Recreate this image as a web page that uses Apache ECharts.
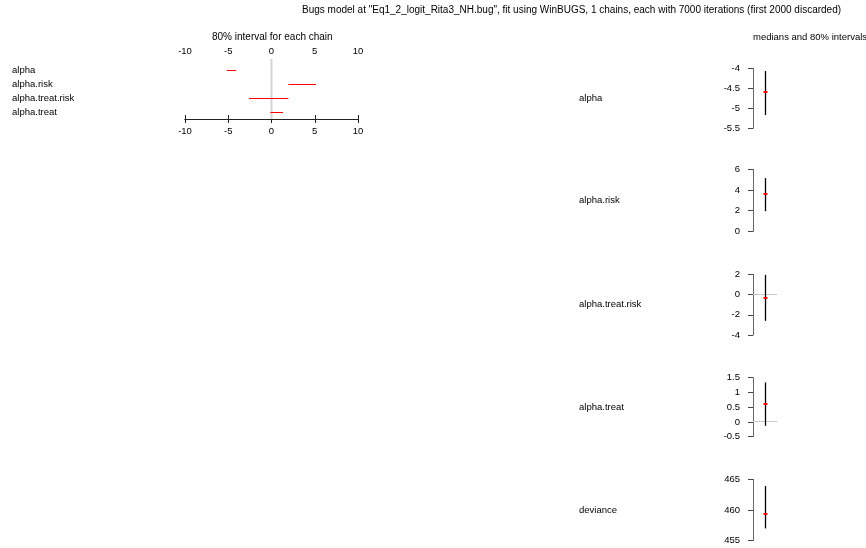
<!DOCTYPE html>
<html>
<head>
<meta charset="utf-8">
<script src="https://cdn.jsdelivr.net/npm/echarts@6/dist/echarts.min.js"></script>
<style>
html, body { margin: 0; background: #fff; }
#main { width: 866px; height: 548px; }
</style>
</head>
<body>
<div id="main"></div>
<script>
// left panel: 80% interval for each chain
var params = ['alpha', 'alpha.risk', 'alpha.treat.risk', 'alpha.treat'];
var chainLow = [-5.17, 1.95, -2.6, -0.13];
var chainHigh = [-4.07, 5.15, 1.95, 1.34];

// right panels: medians and 80% intervals
var panelNames = ['alpha', 'alpha.risk', 'alpha.treat.risk', 'alpha.treat', 'deviance'];
var medians = [-4.58, 3.6, -0.35, 0.6, 459.4];
var lows = [-5.17, 1.95, -2.6, -0.13, 457.0];
var highs = [-4.07, 5.15, 1.95, 1.34, 463.9];
var axisMin = [-5.5, 0, -4, -0.5, 455];
var axisMax = [-4, 6, 2, 1.5, 465];
var axisStep = [0.5, 2, 2, 0.5, 5];

var FONT = 'Liberation Sans';
var txt = { color: '#000', fontSize: 9.5, fontFamily: FONT };

var chart = echarts.init(document.getElementById('main'));

// snap a coordinate to the pixel centre so 1px lines stay crisp
function px(v) { return Math.round(v - 0.5) + 0.5; }

var grids = [
  { left: 185, width: 173, top: 59, height: 60 },   // axes of the left panel
  { left: 185, width: 173, top: 63, height: 56 }    // rows of the left panel
];
var xAxes = [
  {
    gridIndex: 0, type: 'value', position: 'top', min: -10, max: 10, interval: 5,
    axisLine: { lineStyle: { color: '#222' } },
    axisTick: { length: 4, lineStyle: { color: '#222' } },
    axisLabel: Object.assign({ margin: 3 }, txt),
    splitLine: { show: false }
  },
  {
    gridIndex: 0, type: 'value', position: 'bottom', min: -10, max: 10, interval: 5,
    axisLine: { lineStyle: { color: '#222' } },
    axisTick: { length: 4, lineStyle: { color: '#222' } },
    axisLabel: Object.assign({ margin: 7 }, txt),
    splitLine: { show: false }
  },
  { gridIndex: 1, type: 'value', min: -10, max: 10, show: false }
];
var yAxes = [
  { gridIndex: 0, type: 'value', min: 0, max: 1, show: false },
  {
    gridIndex: 1, type: 'category', data: params, inverse: true,
    axisLine: { show: false }, axisTick: { show: false }, splitLine: { show: false },
    axisLabel: Object.assign({ margin: 173, align: 'left' }, txt)
  }
];

var series = [
  {
    // zero reference line across the left panel
    type: 'custom', coordinateSystem: 'cartesian2d', xAxisIndex: 0, yAxisIndex: 0,
    data: [[0, 0, 1]],
    encode: { x: 0, y: [1, 2] },
    renderItem: function (ctx, api) {
      var a = api.coord([api.value(0), api.value(1)]);
      var b = api.coord([api.value(0), api.value(2)]);
      return {
        type: 'line',
        shape: { x1: a[0], y1: a[1], x2: b[0], y2: b[1] },
        style: { stroke: '#d4d4d4', lineWidth: 2 }
      };
    }
  },
  {
    type: 'custom', coordinateSystem: 'cartesian2d', xAxisIndex: 2, yAxisIndex: 1,
    data: params.map(function (p, i) { return [chainLow[i], chainHigh[i], i]; }),
    encode: { x: [0, 1], y: 2 },
    renderItem: function (ctx, api) {
      var a = api.coord([api.value(0), api.value(2)]);
      var b = api.coord([api.value(1), api.value(2)]);
      return {
        type: 'line',
        shape: { x1: a[0], y1: px(a[1]), x2: b[0], y2: px(b[1]) },
        style: { stroke: '#ff0000', lineWidth: 1 }
      };
    },
    z: 3
  }
];

var tops = [68.3, 169.3, 274.3, 377.7, 479.3];
var heights = [60, 62, 60.7, 59, 61.4];

panelNames.forEach(function (name, i) {
  var g = grids.length;
  var xi = xAxes.length;
  var yi = yAxes.length;
  grids.push({ left: 753, width: 24, top: tops[i], height: heights[i] });
  xAxes.push({ gridIndex: g, type: 'value', min: 0, max: 1, show: false });
  yAxes.push({
    gridIndex: g, type: 'value', min: axisMin[i], max: axisMax[i], interval: axisStep[i],
    name: name, nameLocation: 'middle', nameRotate: 0, nameGap: 174,
    nameTextStyle: Object.assign({ align: 'left' }, txt),
    axisLine: { show: true, lineStyle: { color: '#666' } },
    axisTick: { show: true, length: 5, lineStyle: { color: '#444' } },
    axisLabel: Object.assign({ margin: 13 }, txt),
    splitLine: { show: false }
  });
  if (axisMin[i] < 0 && axisMax[i] > 0) {
    // zero reference line
    series.push({
      type: 'custom', coordinateSystem: 'cartesian2d', xAxisIndex: xi, yAxisIndex: yi,
      data: [[0, 1, 0]],
      encode: { x: [0, 1], y: 2 },
      renderItem: function (ctx, api) {
        var a = api.coord([api.value(0), api.value(2)]);
        var b = api.coord([api.value(1), api.value(2)]);
        return {
          type: 'line',
          shape: { x1: a[0], y1: px(a[1]), x2: b[0], y2: px(b[1]) },
          style: { stroke: '#c8c8c8', lineWidth: 1 }
        };
      }
    });
  }
  series.push({
    type: 'custom', coordinateSystem: 'cartesian2d', xAxisIndex: xi, yAxisIndex: yi,
    data: [[0.5, lows[i], highs[i], medians[i]]],
    encode: { x: 0, y: [1, 2, 3] },
    renderItem: function (ctx, api) {
      var lo = api.coord([api.value(0), api.value(1)]);
      var hi = api.coord([api.value(0), api.value(2)]);
      var md = api.coord([api.value(0), api.value(3)]);
      var x = px(lo[0]);
      var y = Math.round(md[1]);
      return {
        type: 'group',
        children: [
          { type: 'line', z2: 1, shape: { x1: x, y1: lo[1], x2: x, y2: hi[1] },
            style: { stroke: '#000', lineWidth: 1.3 } },
          { type: 'rect', z2: 10, shape: { x: x - 2, y: y - 1, width: 4, height: 2 },
            style: { fill: '#ff0000' } }
        ]
      };
    },
    z: 3
  });
});

chart.setOption({
  animation: false,
  backgroundColor: '#fff',
  title: [
    {
      text: 'Bugs model at "Eq1_2_logit_Rita3_NH.bug", fit using WinBUGS, 1 chains, each with 7000 iterations (first 2000 discarded)',
      left: 302, top: 5, padding: 0,
      textStyle: { color: '#000', fontSize: 10, fontWeight: 'normal', fontFamily: FONT }
    },
    {
      text: '80% interval for each chain',
      left: 212, top: 32, padding: 0,
      textStyle: { color: '#000', fontSize: 10, fontWeight: 'normal', fontFamily: FONT }
    },
    {
      text: 'medians and 80% intervals',
      left: 753, top: 32, padding: 0,
      textStyle: { color: '#000', fontSize: 9.5, fontWeight: 'normal', fontFamily: FONT }
    }
  ],
  grid: grids,
  xAxis: xAxes,
  yAxis: yAxes,
  series: series
});
</script>
</body>
</html>
